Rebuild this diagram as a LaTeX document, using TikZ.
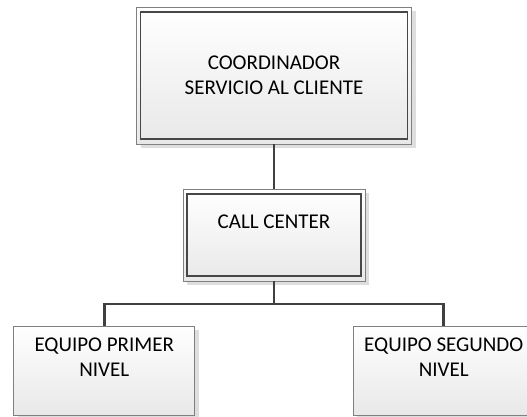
\documentclass[tikz,border=0pt]{standalone}
\usepackage{fontspec}
\setmainfont{Carlito}
\usetikzlibrary{shadows}

\begin{document}
\begin{tikzpicture}[x=1pt,y=1pt]
\tikzstyle{caja}=[rectangle, draw=black!50, line width=0.9pt, top color=white, bottom color=black!9, align=center, inner sep=0pt, font=\fontsize{21}{25}\selectfont, drop shadow={shadow xshift=4pt, shadow yshift=-4pt, fill=black!13, opacity=1}]
\tikzstyle{doble}=[caja, path picture={\draw[black!72, line width=1.1pt] ([shift={(4pt,-5pt)}]path picture bounding box.north west) rectangle ([shift={(-4pt,5pt)}]path picture bounding box.south east);}]
\tikzstyle{level 1}=[level distance=159.5pt]
\tikzstyle{level 2}=[level distance=135.5pt, sibling distance=339.5pt]
\tikzstyle{edge from parent}=[draw=black!75, line width=2.6pt]
\useasboundingbox (0,0) rectangle (527,-417);
\node[doble, minimum width=275pt, minimum height=137pt] (coord) at (274,-75.5) {COORDINADOR\\SERVICIO AL CLIENTE}
[edge from parent path={(\tikzparentnode.south) -- ++(0,-22.5) -| (\tikzchildnode.north)}]
child {node[doble, minimum width=182pt, minimum height=92pt] (call) {CALL CENTER\\[-6pt] \strut}
child {node[caja, minimum width=181pt, minimum height=89pt] (primer) {EQUIPO PRIMER\\NIVEL\\[-6pt] \strut}}
child {node[caja, minimum width=181pt, minimum height=89pt] (segundo) {EQUIPO SEGUNDO\\NIVEL\\[-6pt] \strut}}
};

\end{tikzpicture}
\end{document}
